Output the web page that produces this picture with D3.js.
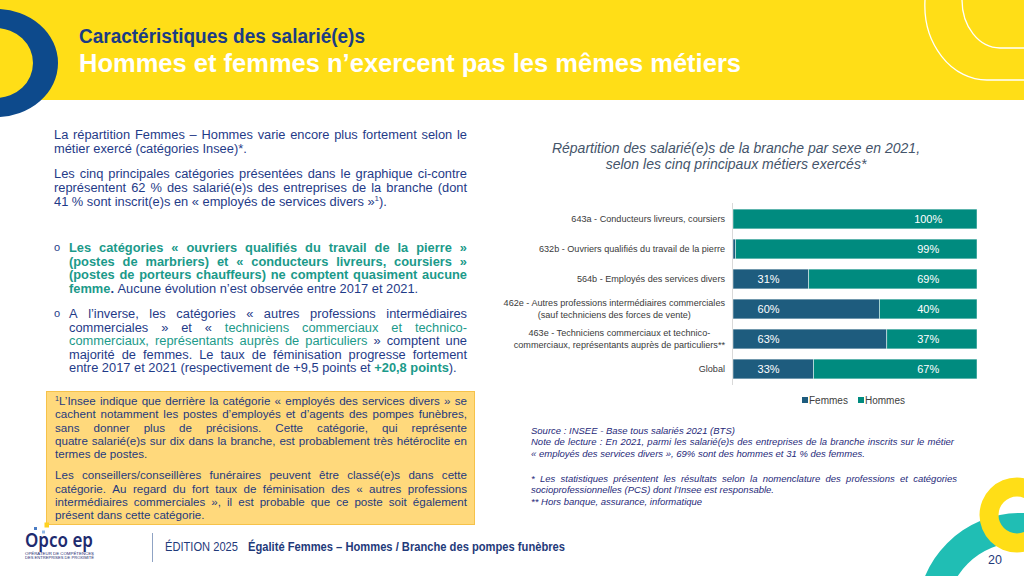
<!DOCTYPE html>
<html lang="fr">
<head>
<meta charset="utf-8">
<script src="https://cdn.jsdelivr.net/npm/d3@7"></script>
<style>
  html, body { margin: 0; padding: 0; background: #fff; }
  svg { display: block; }
</style>
</head>
<body>
<script>
// ---------------- DATA ----------------
const categories = [
  ["643a - Conducteurs livreurs, coursiers"],
  ["632b - Ouvriers qualifiés du travail de la pierre"],
  ["564b - Employés des services divers"],
  ["462e - Autres professions intermédiaires commerciales", "(sauf techniciens des forces de vente)"],
  ["463e - Techniciens commerciaux et technico-", "commerciaux, représentants auprès de particuliers**"],
  ["Global"]
];
const femmes = [0, 1, 31, 60, 63, 33];
const hommes = [100, 99, 69, 40, 37, 67];
const seriesNames = ["Femmes", "Hommes"];
const chartTitle = ["Répartition des salarié(e)s de la branche par sexe en 2021,", "selon les cinq principaux métiers exercés*"];

// ---------------- STYLE ----------------
const FONT = "'Liberation Sans', Arial, Helvetica, sans-serif";
const NARROW = "'Liberation Sans Narrow', 'Arial Narrow', 'Liberation Sans', Arial, sans-serif";
const YELLOW = "#FFDE17";
const NAVY = "#0D4A8C";
const TXT = "#1F3B88";
const GREEN = "#1B9A8A";
const C_F = "#1E5C7E";
const C_H = "#008B7F";

const svg = d3.select("body").append("svg").attr("width", 1024).attr("height", 576);

// ---------------- HEADER ----------------
svg.append("rect").attr("x", 0).attr("y", 0).attr("width", 1024).attr("height", 100).attr("fill", YELLOW);
function ellipsePath(cx, cy, rx, ry) {
  return `M${cx - rx},${cy} a${rx},${ry} 0 1,0 ${2 * rx},0 a${rx},${ry} 0 1,0 ${-2 * rx},0 Z`;
}
svg.append("path")
  .attr("d", ellipsePath(-4, 63, 62, 54) + ellipsePath(-4, 63, 37, 35))
  .attr("fill", NAVY).attr("fill-rule", "evenodd");
svg.append("path").attr("d", "M925,0 A62,75 0 0,0 987,80 L1024,80")
  .attr("fill", "none").attr("stroke", "#fff").attr("stroke-width", 1.3);
svg.append("path").attr("d", "M962,0 A38,48 0 0,0 1000,48 L1024,48")
  .attr("fill", "none").attr("stroke", "#fff").attr("stroke-width", 1.3);

svg.append("text").attr("x", 79).attr("y", 43)
  .attr("font-family", FONT).attr("font-weight", "bold").attr("font-size", 20)
  .attr("fill", "#1B3C84").attr("textLength", 286).attr("lengthAdjust", "spacingAndGlyphs")
  .text("Caractéristiques des salarié(e)s");
svg.append("text").attr("x", 79).attr("y", 72)
  .attr("font-family", FONT).attr("font-weight", "bold").attr("font-size", 26)
  .attr("fill", "#fff").attr("textLength", 662).attr("lengthAdjust", "spacingAndGlyphs")
  .text("Hommes et femmes n’exercent pas les mêmes métiers");

// ---------------- TEXT LAYOUT HELPERS ----------------
const meas = svg.append("text").attr("visibility", "hidden").attr("x", -1000).attr("y", -1000);
function applyStyle(sel, st) {
  return sel.attr("font-family", st.family || FONT)
    .attr("font-size", st.size)
    .attr("font-weight", st.bold ? "bold" : "normal")
    .attr("font-style", st.italic ? "italic" : "normal");
}
function mw(t, st) {
  applyStyle(meas, st).text(t);
  return meas.node().getComputedTextLength();
}
// segs: [{t, color, bold, sup}] ; base: {size, italic, color}
function layoutLine(g, segs, x0, x1, y, justify, base) {
  const tokens = [];
  let pending = false;
  segs.forEach(seg => {
    const parts = seg.t.split(" ");
    parts.forEach((p, i) => {
      if (i > 0) pending = true;
      if (p === "") return;
      tokens.push({ t: p, seg, sp: pending && tokens.length > 0 });
      pending = false;
    });
  });
  const styleOf = seg => ({
    size: seg.sup ? base.size * 0.62 : base.size,
    bold: !!seg.bold, italic: !!base.italic, family: base.family
  });
  tokens.forEach(tk => tk.w = mw(tk.t, styleOf(tk.seg)));
  const bst = { size: base.size, italic: !!base.italic, family: base.family };
  const spaceW = mw("a a", bst) - mw("aa", bst);
  const nGaps = tokens.filter(t => t.sp).length;
  const total = d3.sum(tokens, t => t.w);
  const gap = (justify && nGaps > 0) ? (x1 - x0 - total) / nGaps : spaceW;
  let x = x0;
  tokens.forEach(tk => {
    if (tk.sp) x += gap;
    const st = styleOf(tk.seg);
    applyStyle(g.append("text"), st)
      .attr("x", x).attr("y", tk.seg.sup ? y - base.size * 0.38 : y)
      .attr("fill", tk.seg.color || base.color)
      .text(tk.t);
    x += tk.w;
  });
}
function paragraph(g, lines, x0, x1, ys, base) {
  lines.forEach((segs, i) => {
    const justify = i < lines.length - 1;
    layoutLine(g, segs, x0, x1, ys[i], justify, base);
  });
}
const S = (t, o = {}) => Object.assign({ t }, o);

// ---------------- LEFT TEXT ----------------
const left = svg.append("g");
const LB = { size: 12.85, color: TXT };
paragraph(left, [
  [S("La répartition Femmes – Hommes varie encore plus fortement selon le")],
  [S("métier exercé (catégories Insee)*.")]
], 54, 467, [139, 152.5], LB);
paragraph(left, [
  [S("Les cinq principales catégories présentées dans le graphique ci-contre")],
  [S("représentent 62 % des salarié(e)s des entreprises de la branche (dont")],
  [S("41 % sont inscrit(e)s en « employés de services divers »"), S("1", { sup: true }), S(").")]
], 54, 467, [178, 191.5, 205.5], LB);

// bullets
[252, 318].forEach(y => {
  left.append("text").attr("x", 54).attr("y", y - 1).attr("font-family", FONT)
    .attr("font-size", 11).attr("fill", TXT).text("o");
});
paragraph(left, [
  [S("Les catégories « ouvriers qualifiés du travail de la pierre »", { color: GREEN, bold: true })],
  [S("(postes de marbriers) et « conducteurs livreurs, coursiers »", { color: GREEN, bold: true })],
  [S("(postes de porteurs chauffeurs) ne comptent quasiment aucune", { color: GREEN, bold: true })],
  [S("femme", { color: GREEN, bold: true }), S(".", { bold: true }), S(" Aucune évolution n’est observée entre 2017 et 2021.")]
], 69, 467, [252, 265.5, 279, 292.5], LB);
paragraph(left, [
  [S("A l’inverse, les catégories « autres professions intermédiaires")],
  [S("commerciales » et « "), S("techniciens commerciaux et technico-", { color: GREEN })],
  [S("commerciaux, représentants auprès de particuliers", { color: GREEN }), S(" » comptent une")],
  [S("majorité de femmes. Le taux de féminisation progresse fortement")],
  [S("entre 2017 et 2021 (respectivement de +9,5 points et "), S("+20,8 points", { color: GREEN, bold: true }), S(").")]
], 69, 467, [318, 331.5, 345, 358.5, 372], LB);

// ---------------- FOOTNOTE BOX ----------------
svg.append("rect").attr("x", 46.5).attr("y", 391.5).attr("width", 428).attr("height", 133)
  .attr("fill", "#FFD97C").attr("stroke", "#F6C24A").attr("stroke-width", 1);
const box = svg.append("g");
const BB = { size: 11.6, color: "#1F3A7E" };
paragraph(box, [
  [S("1", { sup: true }), S("L’Insee indique que derrière la catégorie « employés des services divers » se")],
  [S("cachent notamment les postes d’employés et d’agents des pompes funèbres,")],
  [S("sans donner plus de précisions. Cette catégorie, qui représente")],
  [S("quatre salarié(e)s sur dix dans la branche, est probablement très hétéroclite en")],
  [S("termes de postes.")]
], 55, 467, [405, 418, 431.5, 444.5, 458], BB);
paragraph(box, [
  [S("Les conseillers/conseillères funéraires peuvent être classé(e)s dans cette")],
  [S("catégorie. Au regard du fort taux de féminisation des « autres professions")],
  [S("intermédiaires commerciales », il est probable que ce poste soit également")],
  [S("présent dans cette catégorie.")]
], 55, 467, [479, 492.5, 505.5, 519], BB);

// ---------------- CHART ----------------
const chart = svg.append("g");
chartTitle.forEach((t, i) => {
  chart.append("text").attr("x", 736).attr("y", 153 + i * 16)
    .attr("text-anchor", "middle").attr("font-family", FONT).attr("font-style", "italic")
    .attr("font-size", 14).attr("fill", "#44546A").text(t);
});

const x = d3.scaleLinear().domain([0, 100]).range([733, 977]);
const y = d3.scaleBand().domain(d3.range(categories.length)).range([204, 384]).paddingInner(0.34).paddingOuter(0.17);

chart.append("line").attr("x1", x(0) - 0.5).attr("x2", x(0) - 0.5).attr("y1", 203).attr("y2", 385)
  .attr("stroke", "#D9D9D9").attr("stroke-width", 1);

const rows = categories.map((c, i) => ({ i, c, f: femmes[i], h: hommes[i] }));
const rowG = chart.selectAll("g.row").data(rows).join("g").attr("class", "row");
rowG.append("rect").attr("x", d => x(0)).attr("y", d => y(d.i))
  .attr("width", d => x(d.f) - x(0)).attr("height", y.bandwidth())
  .attr("fill", C_F).attr("stroke", "#fff").attr("stroke-opacity", 0.6).attr("stroke-width", 0.8);
rowG.append("rect").attr("x", d => x(d.f)).attr("y", d => y(d.i))
  .attr("width", d => x(d.f + d.h) - x(d.f)).attr("height", y.bandwidth())
  .attr("fill", C_H).attr("stroke", "#fff").attr("stroke-opacity", 0.6).attr("stroke-width", 0.8);
// value labels
rowG.filter(d => d.f >= 5).append("text")
  .attr("x", x(14.6)).attr("y", d => y(d.i) + y.bandwidth() / 2 + 4)
  .attr("text-anchor", "middle").attr("font-family", FONT).attr("font-size", 11)
  .attr("fill", "#fff").text(d => d.f + "%");
rowG.append("text")
  .attr("x", x(80)).attr("y", d => y(d.i) + y.bandwidth() / 2 + 4)
  .attr("text-anchor", "middle").attr("font-family", FONT).attr("font-size", 11)
  .attr("fill", "#fff").text(d => d.h + "%");
// category labels
const LS = { size: 9.1 };
rowG.each(function (d) {
  const g = d3.select(this);
  const cy = y(d.i) + y.bandwidth() / 2;
  const ws = d.c.map(t => mw(t, LS));
  const maxW = d3.max(ws);
  const n = d.c.length;
  d.c.forEach((t, k) => {
    g.append("text")
      .attr("x", n === 1 ? 725 : 725 - maxW / 2)
      .attr("text-anchor", n === 1 ? "end" : "middle")
      .attr("y", cy + 3.2 + (k - (n - 1) / 2) * 12)
      .attr("font-family", FONT).attr("font-size", LS.size).attr("fill", "#3A3A3A").text(t);
  });
});
// legend
const legX = [802, 858];
seriesNames.forEach((s, i) => {
  chart.append("rect").attr("x", legX[i]).attr("y", 397).attr("width", 6).attr("height", 6)
    .attr("fill", i === 0 ? C_F : C_H);
  chart.append("text").attr("x", legX[i] + 7).attr("y", 403.5)
    .attr("font-family", FONT).attr("font-size", 10).attr("fill", "#404040").text(s);
});

// ---------------- SOURCE NOTES ----------------
const notes = svg.append("g");
const NB = { size: 9.5, italic: true, color: "#1F2A7A" };
layoutLine(notes, [S("Source : INSEE - Base tous salariés 2021 (BTS)")], 531, 957, 433.5, false, NB);
paragraph(notes, [
  [S("Note de lecture : En 2021, parmi les salarié(e)s des entreprises de la branche inscrits sur le métier")],
  [S("« employés des services divers », 69% sont des hommes et 31 % des femmes.")]
], 531, 954, [445, 456.5], NB);
paragraph(notes, [
  [S("* Les statistiques présentent les résultats selon la nomenclature des professions et catégories")],
  [S("socioprofessionnelles (PCS) dont l’Insee est responsable.")]
], 531, 957, [481.5, 493], NB);
layoutLine(notes, [S("** Hors banque, assurance, informatique")], 531, 957, 504.5, false, NB);

// ---------------- BOTTOM RIGHT DECOR ----------------
svg.append("path").attr("d", ellipsePath(1020, 616, 103, 103) + ellipsePath(1020, 616, 74, 74))
  .attr("fill", "#20BEB4").attr("fill-rule", "evenodd");
svg.append("path").attr("d", ellipsePath(1017, 515, 37.5, 37.5) + ellipsePath(1017, 515, 18.5, 18.5))
  .attr("fill", YELLOW).attr("fill-rule", "evenodd");
svg.append("text").attr("x", 995).attr("y", 564).attr("text-anchor", "middle")
  .attr("font-family", NARROW).attr("font-size", 12.5).attr("fill", "#1F3A7A").text("20");

// ---------------- FOOTER ----------------
svg.append("rect").attr("x", 44.5).attr("y", 522.5).attr("width", 4.5).attr("height", 5).attr("fill", "#FFD21F");
svg.append("rect").attr("x", 34).attr("y", 527).attr("width", 3).attr("height", 3).attr("fill", "#4A7CC4");
svg.append("rect").attr("x", 42).attr("y", 530.5).attr("width", 3).attr("height", 3).attr("fill", "#8DB7E6");
svg.append("text").attr("x", 25).attr("y", 547).attr("font-family", "'Noto Sans', 'Open Sans', sans-serif")
  .attr("font-size", 20).attr("font-weight", 600).attr("fill", "#1E2B6F").attr("textLength", 68).attr("lengthAdjust", "spacingAndGlyphs")
  .text("Opco ep");
svg.append("text").attr("x", 25).attr("y", 554.5).attr("font-family", FONT)
  .attr("font-size", 3.6).attr("fill", "#1E2B6F").attr("textLength", 69).attr("lengthAdjust", "spacingAndGlyphs")
  .text("OPÉRATEUR DE COMPÉTENCES");
svg.append("text").attr("x", 25).attr("y", 558.5).attr("font-family", FONT)
  .attr("font-size", 3.6).attr("fill", "#1E2B6F").attr("textLength", 69).attr("lengthAdjust", "spacingAndGlyphs")
  .text("DES ENTREPRISES DE PROXIMITÉ");
svg.append("line").attr("x1", 152.5).attr("x2", 152.5).attr("y1", 533).attr("y2", 562)
  .attr("stroke", "#8FA3C4").attr("stroke-width", 1);
svg.append("text").attr("x", 165).attr("y", 551).attr("font-family", NARROW).attr("font-size", 13)
  .attr("fill", "#1F3A7A").attr("textLength", 73).attr("lengthAdjust", "spacingAndGlyphs").text("ÉDITION 2025");
svg.append("text").attr("x", 248).attr("y", 551).attr("font-family", NARROW).attr("font-size", 13)
  .attr("font-weight", "bold").attr("fill", "#1F3A7A").attr("textLength", 317).attr("lengthAdjust", "spacingAndGlyphs")
  .text("Égalité Femmes – Hommes / Branche des pompes funèbres");

meas.remove();
</script>
</body>
</html>
